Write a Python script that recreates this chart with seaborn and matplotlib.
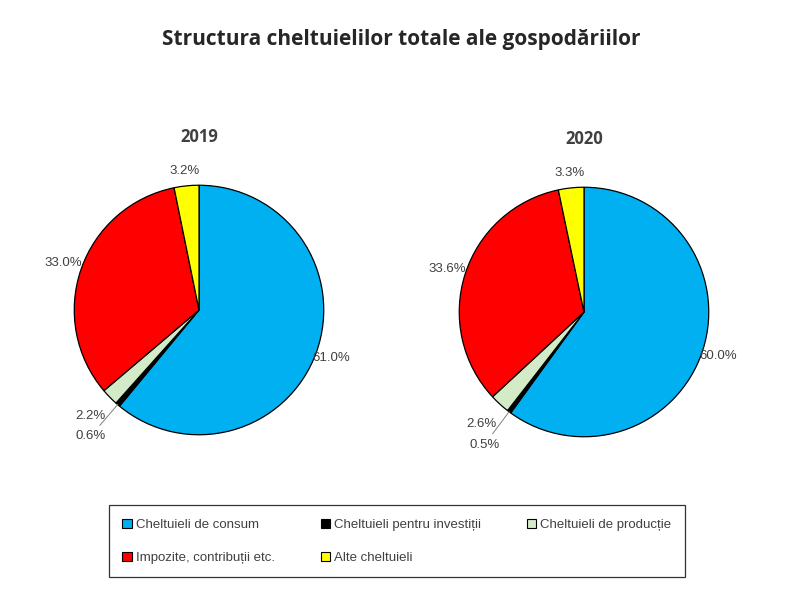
import numpy as np
import matplotlib.pyplot as plt
import seaborn as sns

sns.set_style("white")
plt.rcParams['font.family'] = ['Liberation Sans', 'DejaVu Sans']

categories = ["Cheltuieli de consum", "Cheltuieli pentru investiții", "Cheltuieli de producție",
              "Impozite, contribuții etc.", "Alte cheltuieli"]
values_2019 = [61.0, 0.6, 2.2, 33.0, 3.2]
values_2020 = [60.0, 0.5, 2.6, 33.6, 3.3]
years = ["2019", "2020"]
colors = ["#00B0F0", "#000000", "#D4EBC8", "#FF0000", "#FFFF00"]
label_dist = [1.13, 1.33, 1.22, 1.15, 1.12]

fig = plt.figure(figsize=(8.02, 6.07), dpi=100)
fig.text(0.5, 0.935, "Structura cheltuielilor totale ale gospodăriilor", ha="center", va="center",
         fontsize=15, fontweight="bold", family=["Open Sans", "DejaVu Sans"])

centers = [(199, 310), (584, 312)]
r = 126
for (cx, cy), vals, yr in zip(centers, [values_2019, values_2020], years):
    ax = fig.add_axes([(cx - r) / 802, 1 - (cy + r) / 607, 2 * r / 802, 2 * r / 607])
    wedges, _ = ax.pie(vals, colors=colors, startangle=90, counterclock=False,
                       wedgeprops=dict(edgecolor="black", linewidth=0.9))
    for w, v, d in zip(wedges, vals, label_dist):
        ang = np.deg2rad((w.theta1 + w.theta2) / 2)
        x, y = d * np.cos(ang), d * np.sin(ang)
        ax.text(x, y, f"{v:.1f}%", ha="center", va="center", fontsize=9.5, color="#404040")
        if d > 1.3:
            ax.plot([1.0 * np.cos(ang), 1.22 * np.cos(ang)], [1.0 * np.sin(ang), 1.22 * np.sin(ang)],
                    color="#808080", lw=0.7)
    ax.set_xlim(-1.01, 1.01)
    ax.set_ylim(-1.01, 1.01)
    ax.set_title(yr, fontsize=12, fontweight="bold", pad=30, color="#404040",
                 family=["Open Sans", "DejaVu Sans"])
    ax.axis("off")

handles = [plt.Rectangle((0, 0), 1, 1, facecolor=c, edgecolor="black", lw=0.8) for c in colors]
order = [0, 3, 1, 4, 2]
leg = fig.legend([handles[i] for i in order], [categories[i] for i in order], ncol=3,
                 loc="center", bbox_to_anchor=(0.495, 0.108), frameon=True, fancybox=False,
                 edgecolor="black", fontsize=9.5, handlelength=0.7, handleheight=0.7,
                 handletextpad=0.3, columnspacing=3.5, labelspacing=1.6,
                 borderpad=1.0, labelcolor="#404040")
leg.get_frame().set_linewidth(0.9)

fig.savefig("out.png", dpi=100)
